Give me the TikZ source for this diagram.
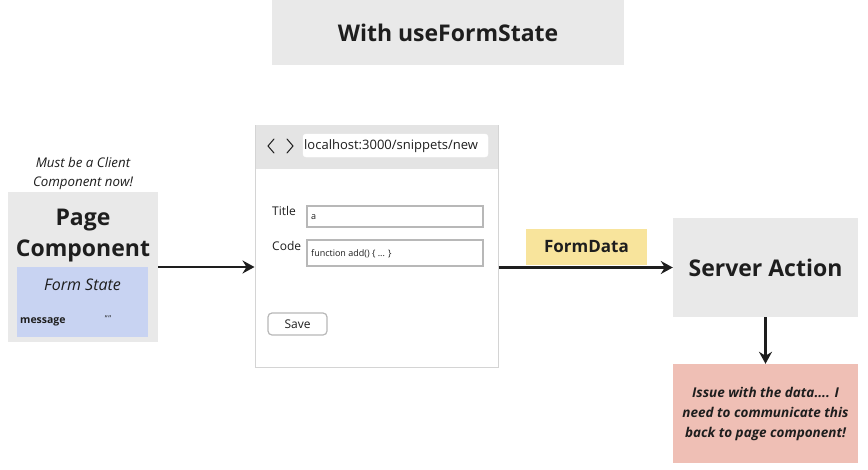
\documentclass[tikz,border=0pt]{standalone}
\usepackage{fontspec}
\setmainfont{Open Sans}
\usetikzlibrary{arrows.meta}
\definecolor{boxgray}{HTML}{E9E9E9}
\definecolor{hdrgray}{HTML}{E4E4E4}
\definecolor{bordergray}{HTML}{D4D4D4}
\definecolor{fieldgray}{HTML}{B8B8B8}
\definecolor{formblue}{HTML}{C8D3F2}
\definecolor{fdyellow}{HTML}{F8E49C}
\definecolor{issuepink}{HTML}{EFBFB5}
\definecolor{ink}{HTML}{1E1E1E}
\tikzset{
  flow/.style={draw=ink, line width=2.2pt, -{Stealth[length=12pt,width=13pt,inset=4pt]}},
  chev/.style={draw=ink, line width=1pt, line cap=round, line join=miter}
}
\begin{document}
\begin{tikzpicture}[x=1pt,y=-1pt]
\useasboundingbox (0,0) rectangle (868,469);
\fill[white] (0,0) rectangle (868,469);
% title
\node[fill=boxgray, minimum width=352pt, minimum height=65pt, inner sep=0pt, text=ink, font=\fontsize{23}{27}\selectfont\bfseries] (title) at (448,32.5) {With useFormState};
% note
\node[text=ink, align=center, font=\fontsize{13.3}{19}\selectfont\itshape] (note) at (83,173.5) {Must be a Client\\Component now!};
% page component
\node[fill=boxgray, minimum width=150pt, minimum height=150pt, inner sep=0pt] (page) at (83,267) {};
\node[text=ink, align=center, font=\fontsize{23}{31}\selectfont\bfseries] (pagetxt) at (83,235.5) {Page\\Component};
\node[fill=formblue, minimum width=131pt, minimum height=70pt, inner sep=0pt] (fstate) at (82.5,302) {};
\node[text=ink, font=\fontsize{16}{19}\selectfont\itshape] (fstxt) at (82.5,285) {Form State};
\node[text=ink, anchor=west, inner sep=0pt, font=\fontsize{10.5}{12}\selectfont\bfseries] (msg) at (20,322) {message};
\node[text=ink, inner sep=0pt, font=\fontsize{8}{9}\selectfont] (msgval) at (108,319) {\symbol{34}\kern0.6pt\symbol{34}};
% browser
\node[draw=bordergray, line width=1pt, fill=white, minimum width=243pt, minimum height=242pt, inner sep=0pt] (browser) at (376.5,246) {};
\node[fill=hdrgray, minimum width=242pt, minimum height=44pt, inner sep=0pt] (header) at (376.5,147) {};
\draw[chev] (274,139) -- (268,146) -- (274,153);
\draw[chev] (287,139) -- (293,146) -- (287,153);
\node[draw=white, fill=white, rounded corners=3pt, minimum width=185pt, minimum height=23pt, inner sep=0pt] (url) at (395.5,145.5) {};
\node[text=ink, anchor=west, inner sep=0pt, font=\fontsize{13}{15}\selectfont] (urltxt) at (304,146) {localhost:3000/snippets/new};
\node[text=ink, anchor=west, inner sep=0pt, font=\fontsize{12}{14}\selectfont] (tlab) at (272,211) {Title};
\node[draw=fieldgray, line width=1.4pt, minimum width=176pt, minimum height=21pt, inner sep=0pt] (tin) at (395,216.5) {};
\node[text=ink, anchor=west, inner sep=0pt, font=\fontsize{9}{10}\selectfont] (tval) at (311,217.5) {a};
\node[text=ink, anchor=west, inner sep=0pt, font=\fontsize{12}{14}\selectfont] (clab) at (272,246) {Code};
\node[draw=fieldgray, line width=1.4pt, minimum width=176pt, minimum height=26pt, inner sep=0pt] (cin) at (395,253) {};
\node[text=ink, anchor=west, inner sep=0pt, font=\fontsize{9}{10}\selectfont] (cval) at (311,254) {function add() \{ ... \}};
\node[draw=fieldgray, line width=1.2pt, rounded corners=4pt, minimum width=59pt, minimum height=22pt, inner sep=0pt, text=ink, font=\fontsize{12}{14}\selectfont] (save) at (297.5,324) {Save};
% formdata
\node[fill=fdyellow, minimum width=121pt, minimum height=36pt, inner sep=0pt, text=ink, font=\fontsize{17}{20}\selectfont\bfseries] (fd) at (586.5,247) {FormData};
% server action
\node[fill=boxgray, minimum width=185pt, minimum height=99pt, inner sep=0pt, text=ink, font=\fontsize{23}{27}\selectfont\bfseries] (server) at (765.5,267.5) {Server Action};
% issue
\node[fill=issuepink, minimum width=185pt, minimum height=99pt, inner sep=0pt, text=ink, align=center, font=\fontsize{13.5}{20}\selectfont\bfseries\itshape] (issue) at (765.5,413.5) {Issue with the data.... I\\need to communicate this\\back to page component!};
% arrows
\draw[flow] (page.east |- 0,267) -- (browser.west |- 0,267);
\draw[flow] (browser.east |- server.west) -- (server.west);
\draw[flow] (server.south) -- (issue.north);
\end{tikzpicture}
\end{document}
